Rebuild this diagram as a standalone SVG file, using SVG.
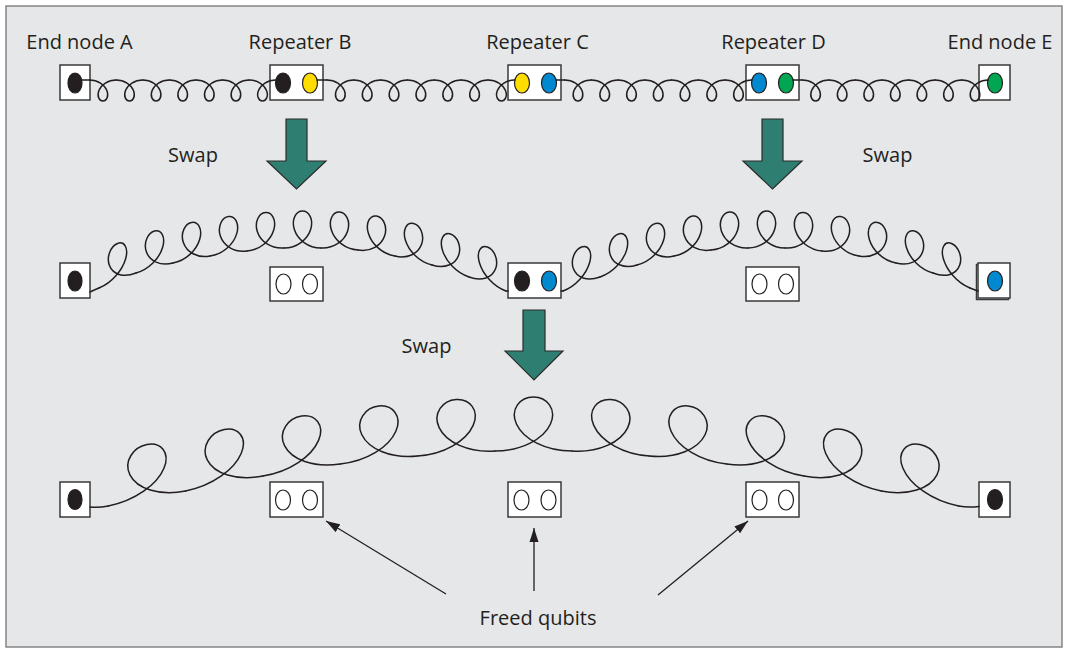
<svg xmlns="http://www.w3.org/2000/svg" xmlns:xlink="http://www.w3.org/1999/xlink" width="1065" height="650" viewBox="0 0 1065 650">
<style>
.lbl{font-family:"Open Sans","Liberation Sans",sans-serif;font-size:20px;fill:#231f20;text-anchor:middle}
.box{fill:#fff;stroke:#3a3a3a;stroke-width:1.5}
.q{stroke:#231f20;stroke-width:1.2}
.k{fill:#231f20}
.y{fill:#ffdd00}
.b{fill:#0089cf}
.g{fill:#00a651}
.w{fill:#fff}
.coil{fill:none;stroke:#231f20;stroke-width:1.5;stroke-linecap:round;stroke-linejoin:round;vector-effect:non-scaling-stroke}
.lead{fill:none;stroke:#231f20;stroke-width:1.5;stroke-linecap:round}
.swap{fill:#2e7f72;stroke:#2b2b2b;stroke-width:1.2}
.ptr{stroke:#231f20;stroke-width:1.3;fill:none}
</style>
<defs>
<path id="u40" class="coil" d="M0,0 C0.1464,0 0.2921,0.0539 0.4078,0.1464 C0.5236,0.2390 0.6083,0.3691 0.65,0.5 C0.6917,0.6309 0.6902,0.7610 0.6578,0.8536 C0.6255,0.9461 0.5631,1 0.5,1 C0.4369,1 0.3745,0.9461 0.3422,0.8536 C0.3098,0.7610 0.3083,0.6309 0.35,0.5 C0.3917,0.3691 0.4764,0.2390 0.5922,0.1464 C0.7079,0.0539 0.8536,0 1,0"/>
<path id="u47" class="coil" d="M0,0 C0.1647,0 0.3287,0.0539 0.4573,0.1464 C0.5860,0.2390 0.6783,0.3691 0.72,0.5 C0.7617,0.6309 0.7527,0.7610 0.7073,0.8536 C0.6620,0.9461 0.5814,1 0.5,1 C0.4186,1 0.3380,0.9461 0.2927,0.8536 C0.2473,0.7610 0.2383,0.6309 0.28,0.5 C0.3217,0.3691 0.4140,0.2390 0.5427,0.1464 C0.6713,0.0539 0.8353,0 1,0"/>
<marker id="ah" markerWidth="14" markerHeight="10" refX="14" refY="5" orient="auto" markerUnits="userSpaceOnUse"><path d="M0,0.5 L14,5 L0,9.5 Z" fill="#231f20"/></marker>
</defs>

<rect x="6" y="6" width="1056" height="641" fill="#e6e7e8" stroke="#858585" stroke-width="1.5"/>

<g id="labels">
<text class="lbl" x="79.5" y="49">End node A</text>
<text class="lbl" x="300" y="49">Repeater B</text>
<text class="lbl" x="537.5" y="49">Repeater C</text>
<text class="lbl" x="773.5" y="49">Repeater D</text>
<text class="lbl" x="1000" y="49">End node E</text>
<text class="lbl" x="193" y="162">Swap</text>
<text class="lbl" x="887.5" y="162">Swap</text>
<text class="lbl" x="426.5" y="353">Swap</text>
<text class="lbl" x="538" y="625">Freed qubits</text>
</g>

<g id="swap-arrows">
<polygon class="swap" points="286,119 307,119 307,161 326,161 296.5,189 267,161 286,161"/>
<polygon class="swap" points="762,119 783,119 783,161 802,161 772.5,189 743,161 762,161"/>
<polygon class="swap" points="523,310 545,310 545,351 563,351 534,380 505,351 523,351"/>
</g>

<!-- Row 1 nodes -->
<g id="r1-A"><rect class="box" x="60" y="65" width="30" height="35"/><ellipse class="q k" cx="75" cy="83" rx="7" ry="10"/></g>
<g id="r1-B"><rect class="box" x="270" y="65" width="53" height="35"/><ellipse class="q k" cx="283" cy="83" rx="7.5" ry="10"/><ellipse class="q y" cx="310" cy="83" rx="7.5" ry="10"/></g>
<g id="r1-C"><rect class="box" x="508" y="65" width="53" height="35"/><ellipse class="q y" cx="522" cy="83" rx="7.5" ry="10"/><ellipse class="q b" cx="549" cy="83" rx="7.5" ry="10"/></g>
<g id="r1-D"><rect class="box" x="746" y="65" width="53" height="35"/><ellipse class="q b" cx="759" cy="83" rx="7.5" ry="10"/><ellipse class="q g" cx="786" cy="83" rx="7.5" ry="10"/></g>
<g id="r1-E"><rect class="box" x="979" y="65" width="31" height="35"/><ellipse class="q g" cx="995" cy="83" rx="7.5" ry="10"/></g>

<!-- Row 2 nodes -->
<g id="r2-A"><rect class="box" x="60" y="263" width="30" height="35"/><ellipse class="q k" cx="75" cy="281" rx="7" ry="10"/></g>
<g id="r2-B"><rect class="box" x="270" y="267" width="53" height="34"/><ellipse class="q w" cx="283.5" cy="284" rx="7.5" ry="10"/><ellipse class="q w" cx="310" cy="284" rx="7.5" ry="10"/></g>
<g id="r2-C"><rect class="box" x="508" y="263" width="53" height="35"/><ellipse class="q k" cx="522" cy="281" rx="7.5" ry="10"/><ellipse class="q b" cx="549" cy="281" rx="7.5" ry="10"/></g>
<g id="r2-D"><rect class="box" x="746" y="267" width="53" height="34"/><ellipse class="q w" cx="759.5" cy="284" rx="7.5" ry="10"/><ellipse class="q w" cx="786" cy="284" rx="7.5" ry="10"/></g>
<g id="r2-E"><rect class="box" x="976.5" y="264.5" width="32" height="35"/><rect class="box" x="978" y="263" width="32" height="35"/><ellipse class="q b" cx="995" cy="281" rx="7.5" ry="10"/></g>

<!-- Row 3 nodes -->
<g id="r3-A"><rect class="box" x="60" y="482" width="30" height="35"/><ellipse class="q k" cx="75" cy="499.5" rx="7" ry="10"/></g>
<g id="r3-B"><rect class="box" x="270" y="482" width="53" height="35"/><ellipse class="q w" cx="283" cy="500" rx="7.5" ry="10"/><ellipse class="q w" cx="310" cy="500" rx="7.5" ry="10"/></g>
<g id="r3-C"><rect class="box" x="508" y="482" width="53" height="35"/><ellipse class="q w" cx="521.5" cy="500" rx="7.5" ry="10"/><ellipse class="q w" cx="548.5" cy="500" rx="7.5" ry="10"/></g>
<g id="r3-D"><rect class="box" x="746" y="482" width="53" height="35"/><ellipse class="q w" cx="759.5" cy="500" rx="7.5" ry="10"/><ellipse class="q w" cx="786" cy="500" rx="7.5" ry="10"/></g>
<g id="r3-E"><rect class="box" x="979" y="482" width="31" height="35"/><ellipse class="q k" cx="995" cy="499.5" rx="7.5" ry="10"/></g>

<g id="connectors">
<!-- Row 1 -->
<path class="lead" d="M81.7,80 H89.6 M317.2,80 H326.9 M556.2,80 H564.6 M793.2,80 H802.3"/>
<use xlink:href="#u40" transform="matrix(26.6 0 0 21 89.6 80)"/>
<use xlink:href="#u40" transform="matrix(26.6 0 0 21 116.2 80)"/>
<use xlink:href="#u40" transform="matrix(26.6 0 0 21 142.8 80)"/>
<use xlink:href="#u40" transform="matrix(26.6 0 0 21 169.4 80)"/>
<use xlink:href="#u40" transform="matrix(26.6 0 0 21 196 80)"/>
<use xlink:href="#u40" transform="matrix(26.6 0 0 21 222.6 80)"/>
<use xlink:href="#u40" transform="matrix(26.6 0 0 21 249.2 80)"/>
<use xlink:href="#u40" transform="matrix(26.85 0 0 21 326.9 80)"/>
<use xlink:href="#u40" transform="matrix(26.85 0 0 21 353.75 80)"/>
<use xlink:href="#u40" transform="matrix(26.85 0 0 21 380.6 80)"/>
<use xlink:href="#u40" transform="matrix(26.85 0 0 21 407.45 80)"/>
<use xlink:href="#u40" transform="matrix(26.85 0 0 21 434.3 80)"/>
<use xlink:href="#u40" transform="matrix(26.85 0 0 21 461.15 80)"/>
<use xlink:href="#u40" transform="matrix(26.85 0 0 21 488 80)"/>
<use xlink:href="#u40" transform="matrix(26.75 0 0 21 564.6 80)"/>
<use xlink:href="#u40" transform="matrix(26.75 0 0 21 591.35 80)"/>
<use xlink:href="#u40" transform="matrix(26.75 0 0 21 618.1 80)"/>
<use xlink:href="#u40" transform="matrix(26.75 0 0 21 644.85 80)"/>
<use xlink:href="#u40" transform="matrix(26.75 0 0 21 671.6 80)"/>
<use xlink:href="#u40" transform="matrix(26.75 0 0 21 698.35 80)"/>
<use xlink:href="#u40" transform="matrix(26.75 0 0 21 725.1 80)"/>
<use xlink:href="#u40" transform="matrix(26.57 0 0 21 802.3 80)"/>
<use xlink:href="#u40" transform="matrix(26.57 0 0 21 828.87 80)"/>
<use xlink:href="#u40" transform="matrix(26.57 0 0 21 855.44 80)"/>
<use xlink:href="#u40" transform="matrix(26.57 0 0 21 882.01 80)"/>
<use xlink:href="#u40" transform="matrix(26.57 0 0 21 908.58 80)"/>
<use xlink:href="#u40" transform="matrix(26.57 0 0 21 935.15 80)"/>
<use xlink:href="#u40" transform="matrix(26.57 0 0 21 961.72 80)"/>

<!-- Row 2 -->
<path class="lead" d="M90,292 Q94,290 99,288 M506,291 L508,291 M561,291 L563,291 M970,288 Q975,290 978,291"/>
<use xlink:href="#u47" transform="matrix(37 -15 0 -37 99 288)"/>
<use xlink:href="#u47" transform="matrix(37 -10 0 -37 136 273)"/>
<use xlink:href="#u47" transform="matrix(37 -7 0 -37 173 263)"/>
<use xlink:href="#u47" transform="matrix(37 -5 0 -37 210 256)"/>
<use xlink:href="#u47" transform="matrix(37 -3 0 -37 247 251)"/>
<use xlink:href="#u47" transform="matrix(37 0 0 -37 284 248)"/>
<use xlink:href="#u47" transform="matrix(37 2 0 -37 321 248)"/>
<use xlink:href="#u47" transform="matrix(37 6 0 -37 358 250)"/>
<use xlink:href="#u47" transform="matrix(37 9 0 -37 395 256)"/>
<use xlink:href="#u47" transform="matrix(37 12 0 -37 432 265)"/>
<use xlink:href="#u47" transform="matrix(37 14 0 -37 469 277)"/>
<use xlink:href="#u47" transform="matrix(37 -14 0 -37 563 291)"/>
<use xlink:href="#u47" transform="matrix(37 -12 0 -37 600 277)"/>
<use xlink:href="#u47" transform="matrix(37 -9 0 -37 637 265)"/>
<use xlink:href="#u47" transform="matrix(37 -6 0 -37 674 256)"/>
<use xlink:href="#u47" transform="matrix(37 -2 0 -37 711 250)"/>
<use xlink:href="#u47" transform="matrix(37 0 0 -37 748 248)"/>
<use xlink:href="#u47" transform="matrix(37 3 0 -37 785 248)"/>
<use xlink:href="#u47" transform="matrix(37 5 0 -37 822 251)"/>
<use xlink:href="#u47" transform="matrix(37 7 0 -37 859 256)"/>
<use xlink:href="#u47" transform="matrix(37 10 0 -37 896 263)"/>
<use xlink:href="#u47" transform="matrix(37 15 0 -37 933 273)"/>

<!-- Row 3 -->
<path class="lead" d="M90,507 Q99,507.8 108.3,506 M958.6,506 Q968,507.8 979,506.5"/>
<use xlink:href="#u47" transform="matrix(77.3 -15 0 -54 108.3 506)"/>
<use xlink:href="#u47" transform="matrix(77.3 -15 0 -54 185.6 491)"/>
<use xlink:href="#u47" transform="matrix(77.3 -12 0 -54 262.9 476)"/>
<use xlink:href="#u47" transform="matrix(77.3 -8 0 -54 340.2 464)"/>
<use xlink:href="#u47" transform="matrix(77.3 -5 0 -54 417.5 456)"/>
<use xlink:href="#u47" transform="matrix(77.3 0 0 -54 494.8 451)"/>
<use xlink:href="#u47" transform="matrix(77.3 5 0 -54 572.1 451)"/>
<use xlink:href="#u47" transform="matrix(77.3 8 0 -54 649.4 456)"/>
<use xlink:href="#u47" transform="matrix(77.3 12 0 -54 726.7 464)"/>
<use xlink:href="#u47" transform="matrix(77.3 15 0 -54 804 476)"/>
<use xlink:href="#u47" transform="matrix(77.3 15 0 -54 881.3 491)"/>

<!-- Freed qubit pointers -->
<line class="ptr" x1="446" y1="594" x2="326" y2="521" marker-end="url(#ah)"/>
<line class="ptr" x1="534" y1="591" x2="534" y2="528" marker-end="url(#ah)"/>
<line class="ptr" x1="658" y1="595" x2="748" y2="521" marker-end="url(#ah)"/>
</g>
</svg>
